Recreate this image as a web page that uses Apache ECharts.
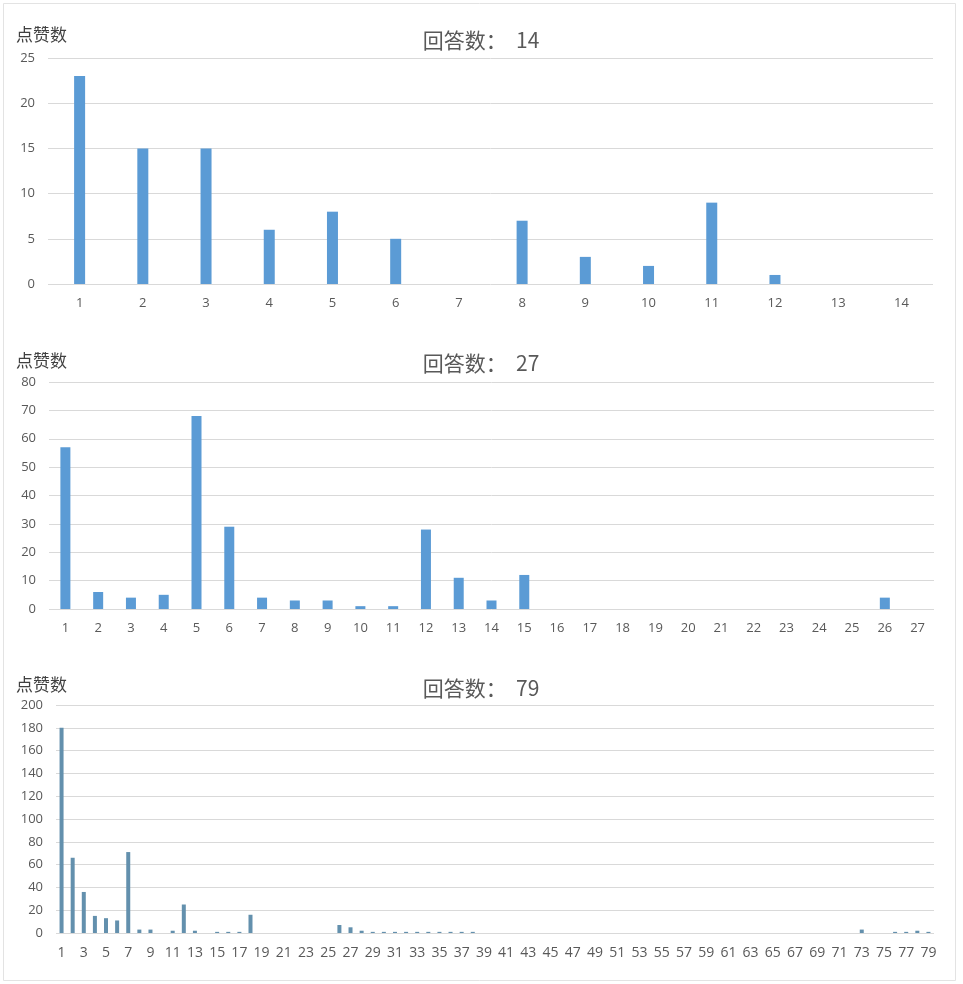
<!DOCTYPE html>
<html>
<head>
<meta charset="utf-8">
<script src="https://cdn.jsdelivr.net/npm/echarts@6/dist/echarts.min.js"></script>
<style>
  html, body { margin: 0; padding: 0; background: #fff; }
  #charts { width: 963px; height: 984px; }
</style>
</head>
<body>
<div id="charts"></div>
<script>
// answer index -> likes, one list per question
let cats14 = ["1","2","3","4","5","6","7","8","9","10","11","12","13","14"];
let likes14 = [23, 15, 15, 6, 8, 5, 0, 7, 3, 2, 9, 1, 0, 0];

let cats27 = [];
for (let i = 1; i <= 27; i++) cats27.push(String(i));
let likes27 = [57, 6, 4, 5, 68, 29, 4, 3, 3, 1, 1, 28, 11, 3, 12,
  0, 0, 0, 0, 0, 0, 0, 0, 0, 0, 4, 0];

let cats79 = [];
for (let i = 1; i <= 79; i++) cats79.push(String(i));
let likes79 = [180, 66, 36, 15, 13, 11, 71, 3, 3, 0,
  2, 25, 2, 0, 1, 1, 1, 16, 0, 0,
  0, 0, 0, 0, 0, 7, 5, 2, 1, 1,
  1, 1, 1, 1, 1, 1, 1, 1, 0, 0,
  0, 0, 0, 0, 0, 0, 0, 0, 0, 0,
  0, 0, 0, 0, 0, 0, 0, 0, 0, 0,
  0, 0, 0, 0, 0, 0, 0, 0, 0, 0,
  0, 0, 3, 0, 0, 1, 1, 2, 1];

let titles = ["回答数：  14", "回答数：  27", "回答数：  79"];
let yMax = [25, 80, 200];
let yStep = [5, 10, 20];

let numFont = "Open Sans";
let cjkFont = "Noto Sans CJK SC";
let textGray = "#595959";

function xAxisOf(idx, data, interval, size) {
  return {
    gridIndex: idx,
    type: "category",
    data: data,
    axisLine: { show: false },
    axisTick: { show: false },
    axisLabel: {
      color: textGray, fontSize: size, fontFamily: numFont,
      margin: 13, interval: interval
    }
  };
}

function yAxisOf(idx) {
  return {
    gridIndex: idx,
    type: "value",
    min: 0,
    max: yMax[idx],
    interval: yStep[idx],
    axisLine: { show: false },
    axisTick: { show: false },
    axisLabel: { color: textGray, fontSize: 13, fontFamily: numFont, margin: 13 },
    splitLine: { lineStyle: { color: "#d9d9d9", width: 1 } }
  };
}

function barSeries(idx, data, width, color) {
  return {
    type: "bar",
    xAxisIndex: idx,
    yAxisIndex: idx,
    data: data,
    barWidth: width,
    itemStyle: { color: color },
    silent: true
  };
}

let myChart = echarts.init(document.getElementById("charts"));
let titleTops = [25, 348, 673];
let nameTops = [21, 347, 671];
let titleList = [];
for (let i = 0; i < 3; i++) {
  titleList.push({
    text: titles[i], left: 476, top: titleTops[i], textAlign: "center",
    textStyle: { color: textGray, fontSize: 21, fontWeight: "normal", fontFamily: cjkFont }
  });
  titleList.push({
    text: "点赞数", left: 11, top: nameTops[i],
    textStyle: { color: "#404040", fontSize: 17, fontWeight: "normal", fontFamily: cjkFont }
  });
}

let option = {
  animation: false,
  title: titleList,
  graphic: [
    {
      type: "rect",
      shape: { x: 3.5, y: 3.5, width: 952, height: 977 },
      style: { fill: "none", stroke: "#e3e3e3", lineWidth: 1 }
    }
  ],
  grid: [
    { left: 48, top: 58, width: 885, height: 226 },
    { left: 49, top: 382, width: 885, height: 227 },
    { left: 56, top: 705, width: 878, height: 228 }
  ],
  xAxis: [
    xAxisOf(0, cats14, 0, 13),
    xAxisOf(1, cats27, 0, 13),
    xAxisOf(2, cats79, 1, 14)
  ],
  yAxis: [yAxisOf(0), yAxisOf(1), yAxisOf(2)],
  series: [
    barSeries(0, likes14, 11, "#5b9bd5"),
    barSeries(1, likes27, 10, "#5b9bd5"),
    barSeries(2, likes79, 4, "#6390ad")
  ]
};
myChart.setOption(option);
</script>
</body>
</html>
